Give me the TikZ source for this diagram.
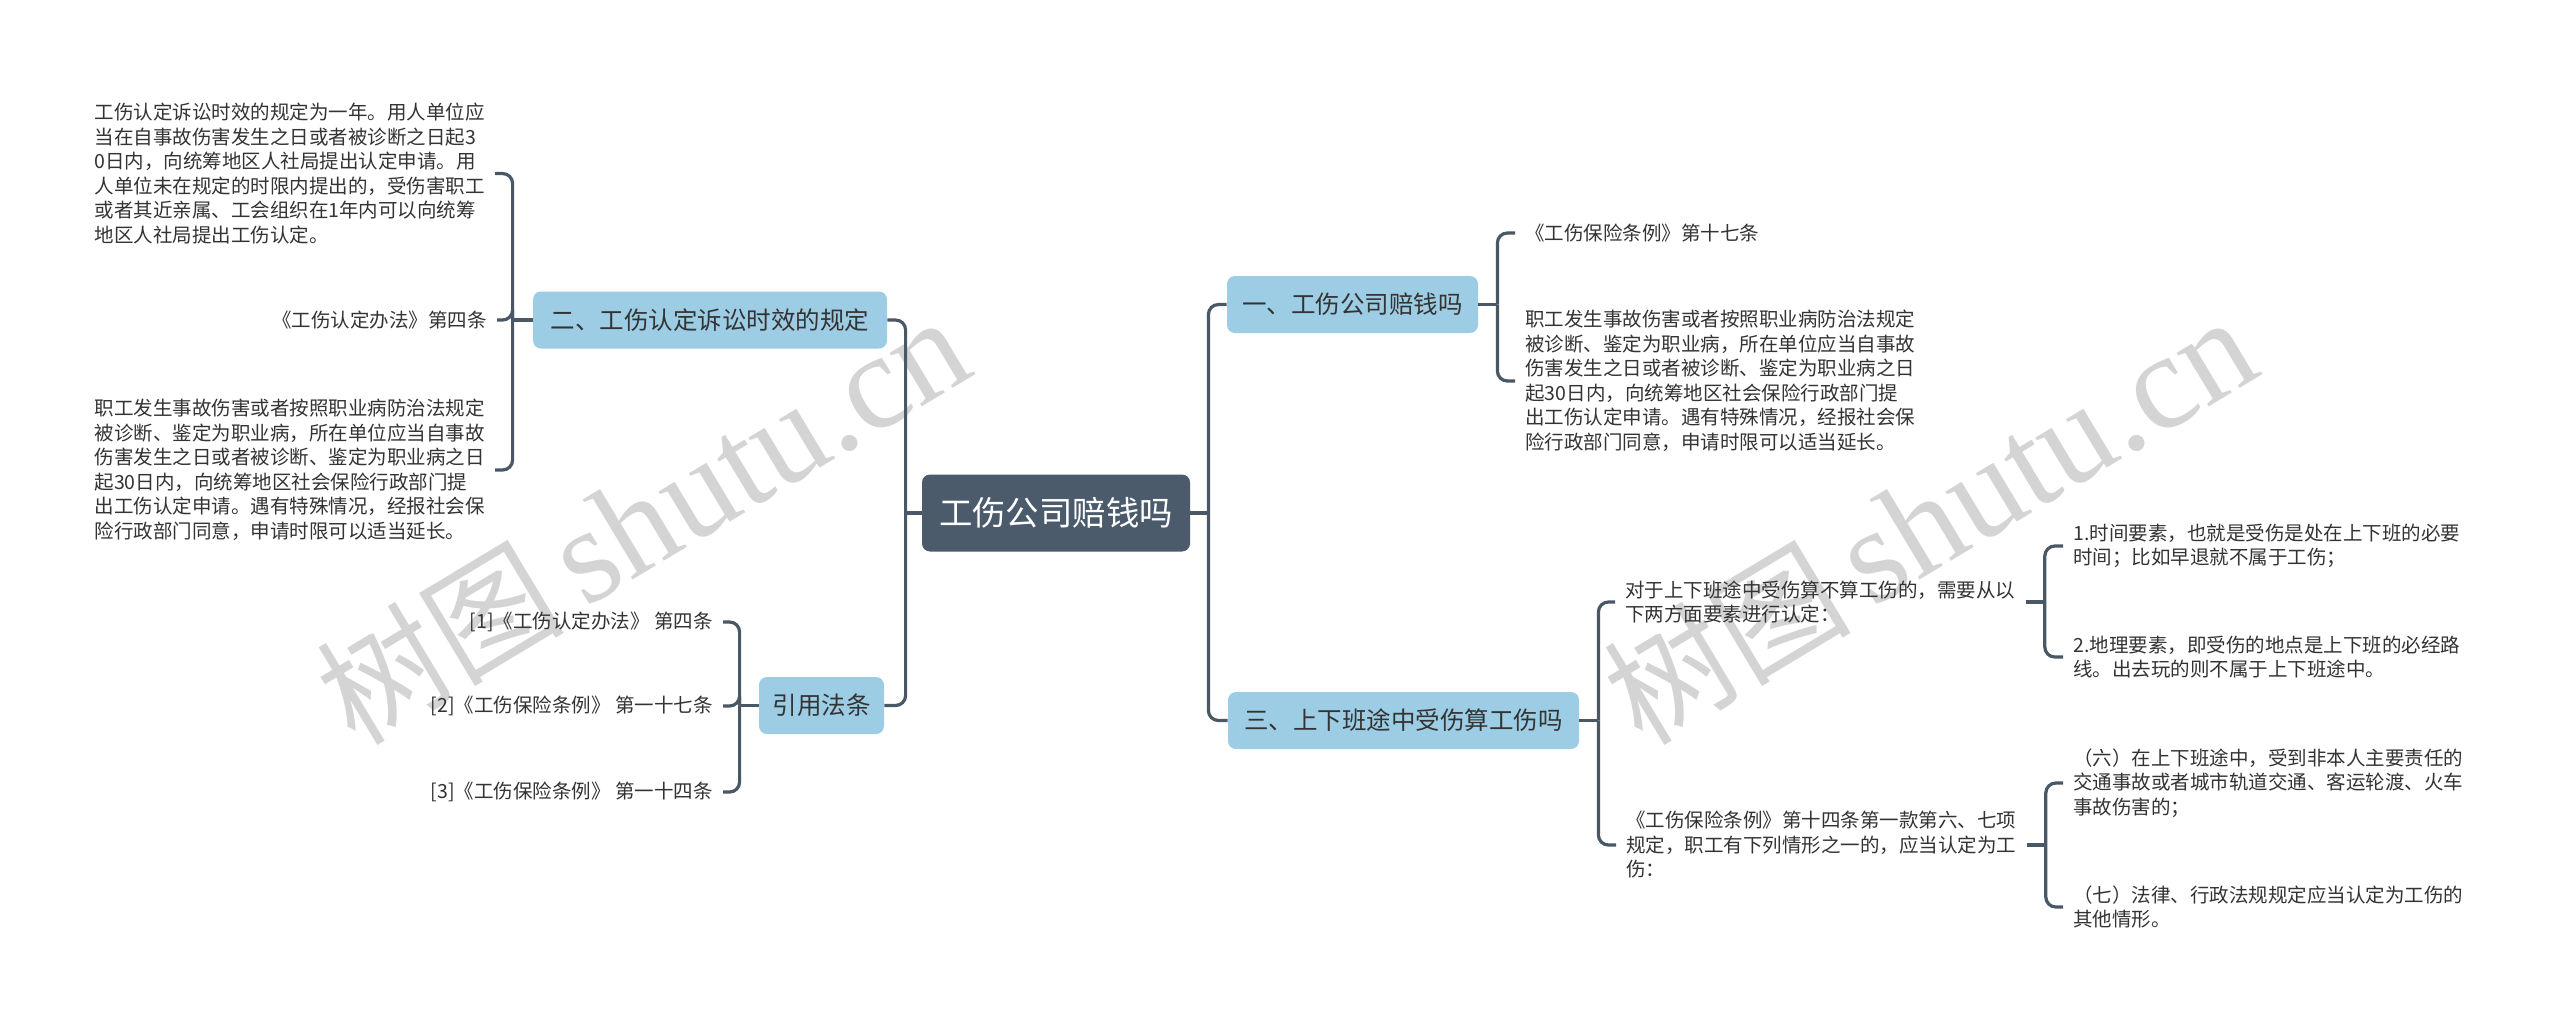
\documentclass[tikz,border=0pt]{standalone}
\usepackage{fontspec}
\setmainfont{Noto Sans CJK SC}
\newfontfamily\wmlatin{Liberation Serif}
\usetikzlibrary{calc}
\definecolor{rootc}{HTML}{4B5B6C}
\definecolor{lonec}{HTML}{9DCDE4}
\definecolor{linec}{HTML}{4A5866}
\definecolor{txtc}{HTML}{333333}
\definecolor{wmc}{HTML}{D4D4D4}
\begin{document}
\begin{tikzpicture}[x=0.5pt,y=-0.5pt,
  conn/.style={draw=linec, line width=1.6pt, rounded corners=5pt},
  rootbox/.style={fill=rootc, rounded corners=4pt, text=white, font=\fontsize{16.7pt}{20pt}\selectfont, inner sep=0pt, minimum height=38.5pt, minimum width=134pt},
  lonebox/.style={fill=lonec, rounded corners=4pt, text=txtc, font=\fontsize{12.25pt}{15pt}\selectfont, inner sep=0pt, minimum height=28.5pt},
  leaf/.style={text=txtc, font=\fontsize{9.75pt}{12.25pt}\selectfont, align=left, inner xsep=5pt, inner ysep=0pt},
  wmark/.style={rotate=31, text=wmc, inner sep=0pt, font=\fontsize{62pt}{62pt}\selectfont},
]
\useasboundingbox (0,0) rectangle (2560,1023);
\fill[white] (0,0) rectangle (2560,1023);

% watermarks
\node[wmark] (wm1) at (642,520) {树图\,{\wmlatin\fontsize{68pt}{68pt}\selectfont shutu.cn}};
\node[wmark] (wm2) at (1929,520) {树图\,{\wmlatin\fontsize{68pt}{68pt}\selectfont shutu.cn}};

% main nodes
\node[rootbox] (root) at (1056,513) {工伤公司赔钱吗};
\node[lonebox, minimum width=125.5pt] (n1) at (1352.5,304.5) {一、工伤公司赔钱吗};
\node[lonebox, minimum width=175.5pt] (n3) at (1403.5,720.5) {三、上下班途中受伤算工伤吗};
\node[lonebox, minimum width=177pt] (n2) at (710,320) {二、工伤认定诉讼时效的规定};
\node[lonebox, minimum width=62.5pt] (n4) at (821.5,705.5) {引用法条};

% right leaves
\node[leaf, anchor=west] (c11) at (1515,233) {《工伤保险条例》第十七条};
\node[leaf, anchor=west] (c12) at (1515,381) {职工发生事故伤害或者按照职业病防治法规定\\被诊断、鉴定为职业病，所在单位应当自事故\\伤害发生之日或者被诊断、鉴定为职业病之日\\起30日内，向统筹地区社会保险行政部门提\\出工伤认定申请。遇有特殊情况，经报社会保\\险行政部门同意，申请时限可以适当延长。};
\node[leaf, anchor=west] (c31) at (1615,602) {对于上下班途中受伤算不算工伤的，需要从以\\下两方面要素进行认定：};
\node[leaf, anchor=west] (c32) at (1616,845) {《工伤保险条例》第十四条第一款第六、七项\\规定，职工有下列情形之一的，应当认定为工\\伤：};
\node[leaf, anchor=west] (c311) at (2063,546) {1.时间要素，也就是受伤是处在上下班的必要\\时间；比如早退就不属于工伤；};
\node[leaf, anchor=west] (c312) at (2063,657) {2.地理要素，即受伤的地点是上下班的必经路\\线。出去玩的则不属于上下班途中。};
\node[leaf, anchor=west] (c321) at (2063,783) {（六）在上下班途中，受到非本人主要责任的\\交通事故或者城市轨道交通、客运轮渡、火车\\事故伤害的；};
\node[leaf, anchor=west] (c322) at (2063,907) {（七）法律、行政法规规定应当认定为工伤的\\其他情形。};

% left leaves
\node[leaf, anchor=east] (c21) at (495,173.5) {工伤认定诉讼时效的规定为一年。用人单位应\\当在自事故伤害发生之日或者被诊断之日起3\\0日内，向统筹地区人社局提出认定申请。用\\人单位未在规定的时限内提出的，受伤害职工\\或者其近亲属、工会组织在1年内可以向统筹\\地区人社局提出工伤认定。};
\node[leaf, anchor=east] (c22) at (497,320) {《工伤认定办法》第四条};
\node[leaf, anchor=east] (c23) at (495,470) {职工发生事故伤害或者按照职业病防治法规定\\被诊断、鉴定为职业病，所在单位应当自事故\\伤害发生之日或者被诊断、鉴定为职业病之日\\起30日内，向统筹地区社会保险行政部门提\\出工伤认定申请。遇有特殊情况，经报社会保\\险行政部门同意，申请时限可以适当延长。};
\node[leaf, anchor=east] (c41) at (723,622) {[1]《工伤认定办法》 第四条};
\node[leaf, anchor=east] (c42) at (723,706) {[2]《工伤保险条例》 第一十七条};
\node[leaf, anchor=east] (c43) at (723,792) {[3]《工伤保险条例》 第一十四条};

% spine junctions
\coordinate (sL) at ($(root.west)+(-16,0)$);
\coordinate (sR) at ($(root.east)+(18,0)$);
\coordinate (s1) at ($(n1.east)+(19,0)$);
\coordinate (s2) at ($(n2.west)+(-20,0)$);
\coordinate (s3) at ($(n3.east)+(19,0)$);
\coordinate (s4) at ($(n4.west)+(-19,0)$);
\coordinate (s31) at ($(c31.east)+(19,0)$);
\coordinate (s32) at ($(c32.east)+(19,0)$);

% connectors
\draw[conn] (root.west) -- (sL);
\draw[conn] (sL) |- (n2.east);
\draw[conn] (sL) |- (n4.east);
\draw[conn] (root.east) -- (sR);
\draw[conn] (sR) |- (n1.west);
\draw[conn] (sR) |- (n3.west);

\draw[conn] (n1.east) -- (s1);
\draw[conn] (s1) |- (c11.west);
\draw[conn] (s1) |- (c12.west);

\draw[conn] (n2.west) -- (s2);
\draw[conn] (s2) |- (c21.east);
\draw[conn] (s2) |- (c22.east);
\draw[conn] (s2) |- (c23.east);

\draw[conn] (n3.east) -- (s3);
\draw[conn] (s3) |- (c31.west);
\draw[conn] (s3) |- (c32.west);

\draw[conn] (n4.west) -- (s4);
\draw[conn] (s4) |- (c41.east);
\draw[conn] (s4) |- (c42.east);
\draw[conn] (s4) |- (c43.east);

\draw[conn] (c31.east) -- (s31);
\draw[conn] (s31) |- (c311.west);
\draw[conn] (s31) |- (c312.west);

\draw[conn] (c32.east) -- (s32);
\draw[conn] (s32) |- (c321.west);
\draw[conn] (s32) |- (c322.west);
\end{tikzpicture}
\end{document}
